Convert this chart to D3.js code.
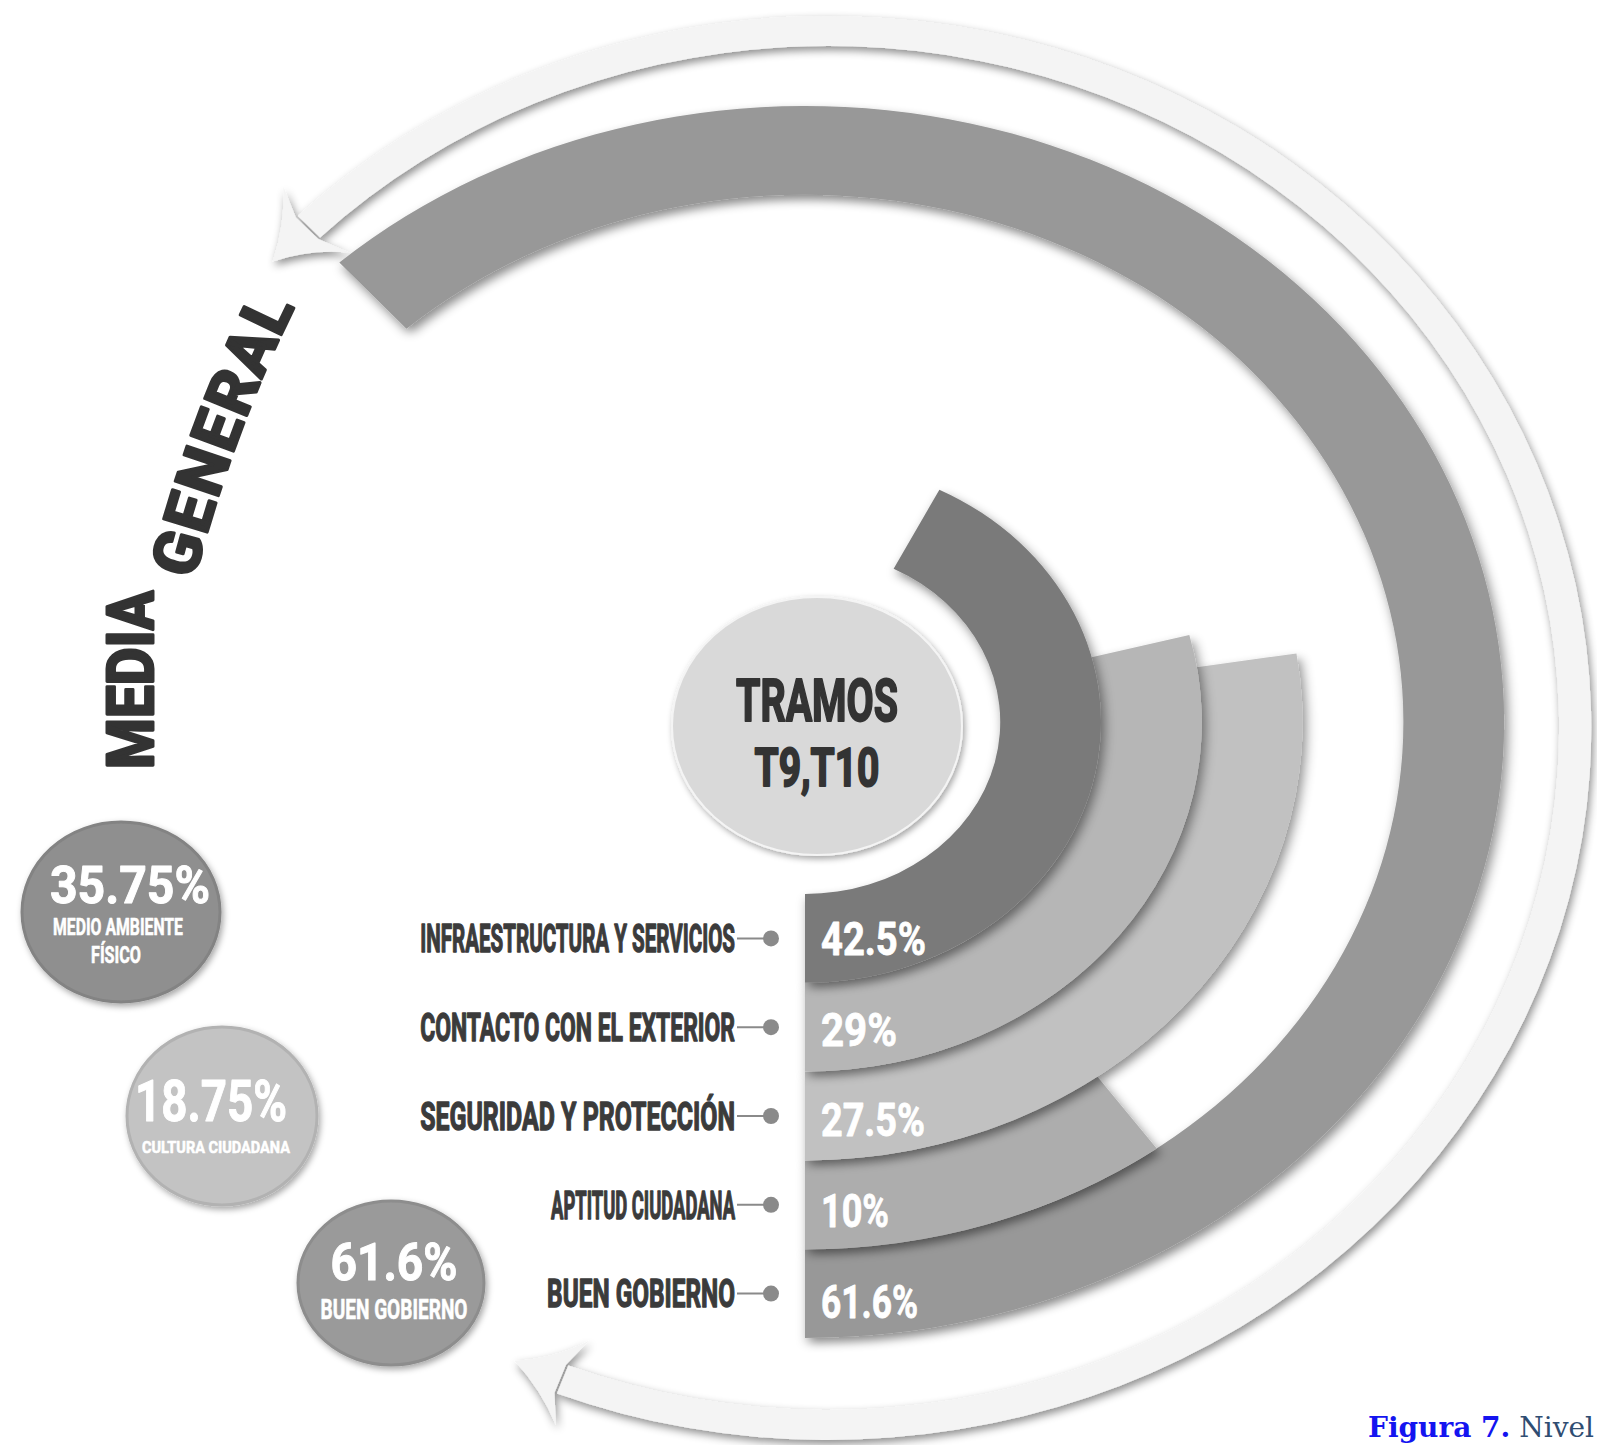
<!DOCTYPE html>
<html>
<head>
  <meta charset="utf-8">
  <title>Tramos T9, T10</title>
  <style>
    body { margin: 0; background: #fff; }
    svg { display: block; font-family: Roboto, "DejaVu Sans Condensed", sans-serif; }
  </style>
</head>
<body>
  <div id="chart"></div>

  <script src="https://d3js.org/d3.v7.min.js"></script>
  <script>
    // data
    const categories = ["INFRAESTRUCTURA Y SERVICIOS", "CONTACTO CON EL EXTERIOR", "SEGURIDAD Y PROTECCIÓN", "APTITUD CIUDADANA", "BUEN GOBIERNO"];
    const values = [42.5, 29, 27.5, 10, 61.6];
    const valueLabels = ["42.5%", "29%", "27.5%", "10%", "61.6%"];
    const summaryLabels = ["35.75%", "18.75%", "61.6%"];
    const summaryNames = [["MEDIO AMBIENTE", "FÍSICO"], ["CULTURA CIUDADANA"], ["BUEN GOBIERNO"]];
    const centerLines = ["TRAMOS", "T9,T10"];
    const titleWords = ["MEDIA", "GENERAL"];

    // look
    const ringColors = ["#7a7a7a", "#b6b6b6", "#c1c1c1", "#adadad", "#989898"];
    const summaryColors = ["#8f8f8f", "#c3c3c3", "#9a9a9a"];
    const labelWidths = [315, 315, 315, 184, 188];
    const valueWidths = [105, 76, 104, 68, 97];

    const width = 1597, height = 1445;
    const ring = { cx: 805, cy: 722, sx: 1.135 };
    const arrow = { cx: 828, cy: 728, sx: 1.072, r0: 682, r1: 712, start: -44, end: 200.8 };
    const hub = { cx: 817, cy: 726, rx: 145, ry: 129 };
    const discs = [
      { cx: 121, cy: 912, rx: 99, ry: 90, vx: 130, vy: 903, vs: 52, vw: 160,
        names: [{ x: 118, y: 935, s: 24, w: 130 }, { x: 116, y: 963, s: 24, w: 50 }] },
      { cx: 222, cy: 1116, rx: 95, ry: 89, vx: 211, vy: 1121, vs: 58, vw: 152,
        names: [{ x: 216, y: 1153, s: 17, w: 148 }] },
      { cx: 391, cy: 1283, rx: 93, ry: 82, vx: 394, vy: 1280, vs: 52, vw: 127,
        names: [{ x: 394, y: 1319, s: 28, w: 147 }] }
    ];

    const toRad = d => d * Math.PI / 180;

    const svg = d3.select("#chart").append("svg")
      .attr("width", width)
      .attr("height", height);

    const defs = svg.append("defs");
    function shadow(id, dx, dy, sd, op) {
      defs.append("filter").attr("id", id)
        .attr("x", "-30%").attr("y", "-30%").attr("width", "160%").attr("height", "160%")
        .append("feDropShadow")
        .attr("dx", dx).attr("dy", dy).attr("stdDeviation", sd)
        .attr("flood-color", "#000").attr("flood-opacity", op);
    }
    shadow("barShadow", 3, 5, 5, 0.45);
    shadow("arrowShadow", 2, 4, 4, 0.45);
    shadow("discShadow", 2, 3, 3, 0.35);

    // text squeezed to the width it has in the picture; a thin stroke makes it heavier
    function fitText(parent, str, x, y, size, w, anchor, fill, stroke) {
      const t = parent.append("text")
        .attr("text-anchor", anchor)
        .attr("font-size", size)
        .attr("font-weight", 700)
        .attr("fill", fill)
        .attr("stroke", fill)
        .attr("stroke-width", stroke || 0)
        .attr("stroke-linejoin", "round")
        .text(str);
      const k = w / t.node().getComputedTextLength();
      t.attr("transform", `translate(${x},${y}) scale(${k},1)`);
      return t;
    }

    // big double arrow around everything
    const arrowG = svg.append("g")
      .attr("transform", `translate(${arrow.cx},${arrow.cy}) scale(${arrow.sx},1)`)
      .attr("filter", "url(#arrowShadow)");

    arrowG.append("path")
      .attr("d", d3.arc()({ innerRadius: arrow.r0, outerRadius: arrow.r1,
        startAngle: toRad(arrow.start), endAngle: toRad(arrow.end) }))
      .attr("fill", "#f4f4f4");

    function arrowHead(base, dir) {
      const p = (a, r) => d3.pointRadial(toRad(a), r);
      const rm = (arrow.r0 + arrow.r1) / 2;
      const path = d3.path();
      const tip = p(base - dir * 4, rm);
      const ob = p(base + dir * 0.8, arrow.r1 + 30), ib = p(base + dir * 0.8, arrow.r0 - 30);
      const oj = p(base - dir * 0.2, arrow.r1), ij = p(base - dir * 0.2, arrow.r0);
      const oc = p(base - dir * 1.2, arrow.r1 + 2), ic = p(base - dir * 1.2, arrow.r0 - 2);
      path.moveTo(...tip);
      path.quadraticCurveTo(...oc, ...ob);
      path.lineTo(...oj);
      path.lineTo(...ij);
      path.lineTo(...ib);
      path.quadraticCurveTo(...ic, ...tip);
      path.closePath();
      return path.toString();
    }
    arrowG.append("path").attr("d", arrowHead(arrow.start, 1)).attr("fill", "#f4f4f4");
    arrowG.append("path").attr("d", arrowHead(arrow.end, -1)).attr("fill", "#f4f4f4");

    // radial bars
    const radius = d3.scaleBand().domain(categories).range([172, 616]);
    const angle = d3.scaleLinear().domain([0, 100]).range([0, 2 * Math.PI]);

    const rows = categories.map((name, i) => ({
      name, value: values[i], label: valueLabels[i], color: ringColors[i], i
    }));

    const arc = d3.arc()
      .innerRadius(d => radius(d.name))
      .outerRadius(d => radius(d.name) + radius.bandwidth())
      .startAngle(Math.PI)
      .endAngle(d => Math.PI - angle(d.value));

    const ringG = svg.append("g")
      .attr("transform", `translate(${ring.cx},${ring.cy}) scale(${ring.sx},1)`);

    ringG.selectAll("path.bar")
      .data(rows.slice().reverse())
      .join("path")
      .attr("class", "bar")
      .attr("d", arc)
      .attr("fill", d => d.color)
      .attr("filter", "url(#barShadow)");

    const midY = d => ring.cy + radius(d.name) + radius.bandwidth() / 2;

    // values inside the bars
    rows.forEach(d => {
      fitText(svg, d.label, ring.cx + 16, midY(d) + 46 * 0.355 + d.i * 2, 46, valueWidths[d.i], "start", "#fff", 0.8);
    });

    // category labels with leader lines
    const lead = svg.append("g");
    lead.selectAll("line")
      .data(rows)
      .join("line")
      .attr("x1", 737).attr("x2", 771)
      .attr("y1", d => midY(d)).attr("y2", d => midY(d))
      .attr("stroke", "#8a8a8a").attr("stroke-width", 2);
    lead.selectAll("circle")
      .data(rows)
      .join("circle")
      .attr("cx", 771).attr("cy", d => midY(d)).attr("r", 8)
      .attr("fill", "#8a8a8a");
    rows.forEach(d => {
      fitText(svg, d.name, 735, midY(d) + 39 * 0.355, 39, labelWidths[d.i], "end", "#3b3b3b", 1.4);
    });

    // hub
    svg.append("ellipse")
      .attr("cx", hub.cx).attr("cy", hub.cy).attr("rx", hub.rx).attr("ry", hub.ry)
      .attr("fill", "#d9d9d9").attr("stroke", "#f4f4f4").attr("stroke-width", 2)
      .attr("filter", "url(#discShadow)");
    fitText(svg, centerLines[0], hub.cx, 721, 60, 162, "middle", "#333", 2);
    fitText(svg, centerLines[1], hub.cx, 786, 54, 125, "middle", "#333", 2);

    // summary discs on the left
    discs.forEach((c, i) => {
      svg.append("ellipse")
        .attr("cx", c.cx).attr("cy", c.cy).attr("rx", c.rx).attr("ry", c.ry)
        .attr("fill", summaryColors[i])
        .attr("stroke", d3.color(summaryColors[i]).darker(0.25)).attr("stroke-width", 3)
        .attr("filter", "url(#discShadow)");
      fitText(svg, summaryLabels[i], c.vx, c.vy, c.vs, c.vw, "middle", "#fff", 1);
      summaryNames[i].forEach((n, j) => {
        const o = c.names[j];
        fitText(svg, n, o.x, o.y, o.s, o.w, "middle", "#fff", 0.6);
      });
    });

    // title
    fitText(svg, titleWords[0], 0, 0, 64, 178, "start", "#333", 3)
      .attr("transform", "translate(153,769) rotate(-90) scale(0.91,1)");

    defs.append("path").attr("id", "titleCurve")
      .attr("d", "M194,580 Q232,432 298,300");
    svg.append("text")
      .attr("font-size", 64)
      .attr("font-weight", 700)
      .attr("fill", "#333")
      .attr("stroke", "#333")
      .attr("stroke-width", 3)
      .attr("stroke-linejoin", "round")
      .attr("letter-spacing", 2)
      .append("textPath")
      .attr("href", "#titleCurve")
      .text(titleWords[1]);

    // caption, cut at the right edge as in the source page
    const cap = svg.append("text")
      .attr("x", 1368).attr("y", 1437)
      .attr("font-family", "'DejaVu Serif', 'Liberation Serif', serif")
      .attr("font-size", 28);
    cap.append("tspan").attr("font-weight", 700).attr("fill", "#1414f0").text("Figura 7.");
    cap.append("tspan").attr("fill", "#2f4d72").text(" Nivel");
  </script>
</body>
</html>
